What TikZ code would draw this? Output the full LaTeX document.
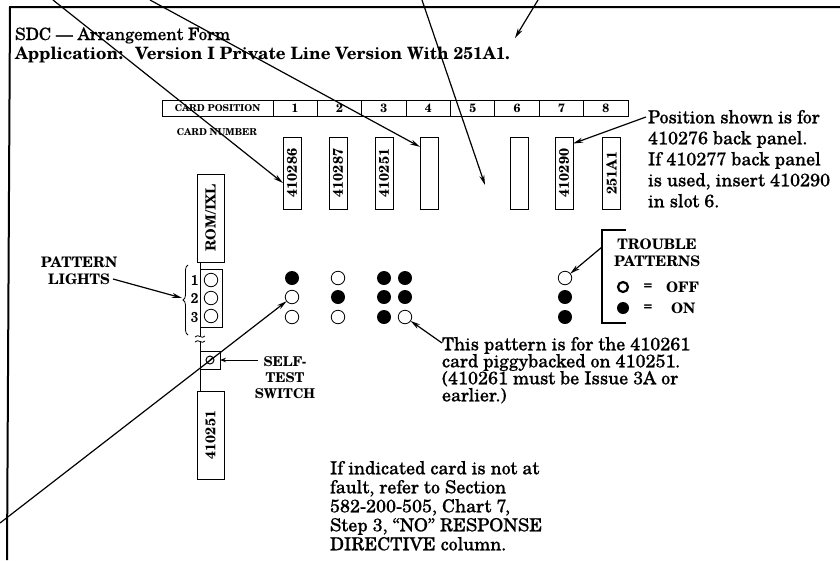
\documentclass[tikz,border=0pt]{standalone}
\usepackage{fontspec}
\setmainfont{TeX Gyre Schola}
\newfontfamily\scanrm{TeX Gyre Schola}[FakeBold=0.6]
\usetikzlibrary{arrows.meta,decorations.pathreplacing}
\begin{document}
\begin{tikzpicture}[x=1pt,y=-1pt,
  every node/.style={inner sep=0pt, outer sep=0pt},
  ptr/.style={line width=1.2pt, -{Stealth[length=10pt,width=5pt]}},
  sptr/.style={line width=1pt, -{Stealth[length=6pt,width=4.5pt]}},
  cellbox/.style={draw, line width=0.9pt, minimum height=16pt, minimum width=44.375pt, font=\bfseries\fontsize{12}{12}\selectfont},
  cardbox/.style={draw, line width=1pt, minimum width=18pt, minimum height=72pt},
  tallbox/.style={draw, line width=1pt, minimum width=27pt, minimum height=88pt},
  cardtxt/.style={rotate=90, font=\bfseries\fontsize{14}{14}\selectfont},
  lon/.style={circle, fill=black, minimum size=14pt},
  loff/.style={circle, draw, line width=0.8pt, minimum size=13.5pt},
  caps/.style={font=\bfseries\fontsize{14.5}{17}\selectfont, align=center},
  small/.style={font=\bfseries\fontsize{9.5}{9.5}\selectfont},
  legend/.style={font=\bfseries\fontsize{14.5}{14.5}\selectfont},
  note/.style={align=left, anchor=north west},
]
\useasboundingbox (0,0) rectangle (840,560);

% frame
\coordinate (fTL) at (10,7);
\coordinate (fTR) at (840,7);
\coordinate (fBL) at (7,560);
\draw[line width=2pt] (fBL) -- (fTL) -- (fTR);

% title
\node[anchor=base west, font=\scanrm\fontsize{17}{17}\selectfont] (t1) at (15,40) {SDC — Arrangement Form};
\node[anchor=base west, font=\bfseries\fontsize{17}{17}\selectfont] (t2) at (15,59) {Application:\hspace{6pt} Version I Private Line Version With 251A1.};

% card position table
\node[draw, line width=0.9pt, minimum width=111pt, minimum height=16pt, small] (cp) at (217.5,108) {CARD POSITION};
\foreach \i in {1,...,8} {
  \node[cellbox] (p\i) at ({273+44.375*(\i-0.5)},108) {\i};
}
\node[small] (cn) at (217,132) {CARD NUMBER};

% card boxes
\node[cardbox] (c1) at (292,173) {};   \node[cardtxt] (c1t) at (c1) {410286};
\node[cardbox] (c2) at (338,173) {};   \node[cardtxt] (c2t) at (c2) {410287};
\node[cardbox] (c3) at (384,173) {};   \node[cardtxt] (c3t) at (c3) {410251};
\node[cardbox] (c4) at (429,173) {};
\node[cardbox] (c6) at (519.5,173) {};
\node[cardbox] (c7) at (564,173) {};   \node[cardtxt] (c7t) at (c7) {410290};
\node[cardbox] (c8) at (611.5,173) {}; \node[cardtxt] (c8t) at (c8) {251A1};

% left column: ROM/IXL, pattern lights, switch, 410251
\node[tallbox] (rom) at (210.5,218) {}; \node[cardtxt] (romt) at (rom) {ROM/IXL};
\node[draw, line width=1pt, minimum width=22pt, minimum height=58pt] (pl) at (211,298) {};
\node[loff] (pl1) at (211,280) {};
\node[loff] (pl2) at (211,298) {};
\node[loff] (pl3) at (211,316) {};
\node[font=\scanrm\fontsize{14}{14}\selectfont] (n1) at (194.5,280) {1};
\node[font=\scanrm\fontsize{14}{14}\selectfont] (n2) at (194.5,298) {2};
\node[font=\scanrm\fontsize{14}{14}\selectfont] (n3) at (194.5,317) {3};
\node[draw, line width=1pt, minimum width=20pt, minimum height=18pt] (sw) at (210,360) {};
\node[circle, draw, line width=1pt, minimum size=8pt] (swc) at (sw) {};
\draw[line width=1pt] (swc.south west) -- (swc.north east);
\node[tallbox] (low) at (210.5,435) {}; \node[cardtxt] (lowt) at (low) {410251};

\coordinate (brk1) at (200,336);
\coordinate (brk2) at (200,341);
\draw[line width=1pt] (rom.south -| pl.west) -- (pl.north west);
\draw[line width=1pt] (pl.south west) -- (brk1);
\draw[line width=1pt] (brk2) -- (sw.north west);
\draw[line width=1pt] (sw.south west) -- (low.north -| sw.west);
\draw[line width=0.8pt] (195,337) .. controls (198,333) and (202,340) .. (205,336);
\draw[line width=0.8pt] (195,342) .. controls (198,338) and (202,345) .. (205,341);

% brace and pattern lights label
\draw[line width=0.8pt, decorate, decoration={brace, amplitude=5pt}] (188,335) -- (188,265);
\coordinate (brtip) at (182,298);
\node[caps] (plab) at (79,270.5) {PATTERN\\LIGHTS};
\coordinate (plaba) at (113,279);
\draw[ptr] (plaba) -- (brtip);

% self-test switch label
\node[caps, font=\bfseries\fontsize{13.5}{16}\selectfont] (self) at (285,378) {SELF-\\TEST\\SWITCH};
\coordinate (selfa) at (258,360);
\draw[sptr] (selfa) -- (sw.east);

% trouble patterns dots
\node[lon]  (d11) at (292,278) {};
\node[loff] (d12) at (292,297) {};
\node[loff] (d13) at (292,317) {};
\node[loff] (d21) at (338,278) {};
\node[lon]  (d22) at (338,297) {};
\node[loff] (d23) at (338,317) {};
\node[lon]  (d31) at (384,278) {};
\node[lon]  (d32) at (384,297) {};
\node[lon]  (d33) at (384,317) {};
\node[lon]  (d41) at (405,278) {};
\node[lon]  (d42) at (405,297) {};
\node[loff] (d43) at (405,317) {};
\node[loff] (d71) at (565,278) {};
\node[lon]  (d72) at (565,297) {};
\node[lon]  (d73) at (565,317) {};

% legend
\draw[line width=1.2pt] (626,230) -- (602,230) -- (602,323) -- (626,323);
\node[caps] (tp) at (657,252.5) {TROUBLE\\PATTERNS};
\node[circle, draw, line width=2.2pt, minimum size=10pt] (lgoff) at (623,287) {};
\node[legend] (eq1) at (648,287) {=};
\node[legend, anchor=west] (offl) at (666,287) {OFF};
\node[circle, fill=black, minimum size=12pt] (lgon) at (623,308) {};
\node[legend] (eq2) at (648,308) {=};
\node[legend, anchor=west] (onl) at (671,308) {ON};
\coordinate (tpa) at (602,247);
\draw[ptr] (tpa) -- (d71);

% notes
\node[note, font=\scanrm\fontsize{18}{21}\selectfont] (posn) at (648,110) {Position shown is for\\410276 back panel.\\If 410277 back panel\\is used, insert 410290\\in slot 6.};
\coordinate (posa) at (646,117);
\draw[ptr] (posa) -- (c7.73);

\node[note, font=\scanrm\fontsize{18}{17}\selectfont] (patn) at (442,337) {This pattern is for the 410261\\card piggybacked on 410251.\\(410261 must be Issue 3A or\\earlier.)};
\coordinate (pata) at (442,343);
\draw[ptr] (pata) -- (d43);

\node[note, font=\scanrm\fontsize{18}{19}\selectfont] (bot) at (330,461) {If indicated card is not at\\fault, refer to Section\\582-200-505, Chart 7,\\Step 3, “NO” RESPONSE\\DIRECTIVE column.};

% long pointer lines
\coordinate (s1) at (53,0);
\draw[ptr] (s1) -- (c1.228);
\coordinate (s2) at (150,0);
\draw[ptr] (s2) -- (c4.109);
\coordinate (s3) at (422,0);
\coordinate (e3) at (485,185);
\draw[ptr] (s3) -- (e3);
\coordinate (s4) at (538,0);
\coordinate (e4) at (515,38);
\draw[ptr] (s4) -- (e4);
\coordinate (sE) at (0,523);
\draw[ptr] (sE) -- (d12);
\end{tikzpicture}
\end{document}
